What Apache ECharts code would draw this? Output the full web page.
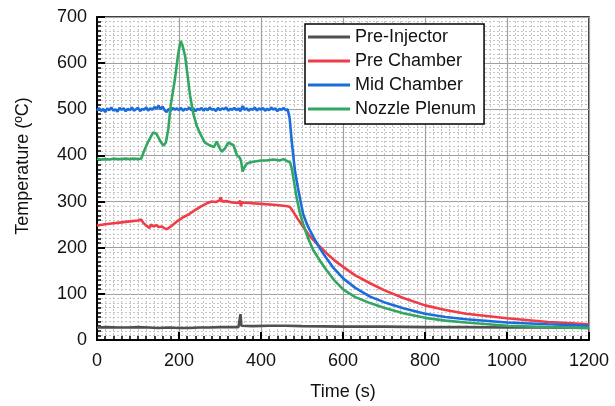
<!DOCTYPE html>
<html>
<head>
<meta charset="utf-8">
<script src="https://cdn.jsdelivr.net/npm/echarts@6/dist/echarts.min.js"></script>
<style>
  html, body { margin: 0; padding: 0; background: #fff; }
  #chart { width: 615px; height: 406px; }
</style>
</head>
<body>
<div id="chart"></div>
<script>
// 图例名称
var seriesNames = ['Pre-Injector', 'Pre Chamber', 'Mid Chamber', 'Nozzle Plenum']
var seriesColors = ['#505050', '#f03c46', '#1b6ddc', '#33a661']
var xTicks = [0, 200, 400, 600, 800, 1000, 1200]
var yTicks = [0, 100, 200, 300, 400, 500, 600, 700]

// Pre-Injector
var preInjTime = [0, 25, 50, 75, 100, 125, 150, 175, 200, 225, 250, 275, 300, 325, 345, 348, 350, 352, 356, 380, 420, 460, 500, 600, 700, 800, 900, 1000, 1100, 1200]
var preInjTemp = [27, 28, 27, 27, 28, 27, 26, 27, 26, 26, 27, 27, 28, 28, 28, 29, 56, 31, 30, 30, 31, 31, 30, 29, 29, 28, 28, 27, 27, 26]

// Pre Chamber
var preChTime = [0, 20, 40, 60, 80, 100, 108, 112, 116, 120, 124, 128, 132, 138, 145, 150, 158, 165, 170, 180, 195, 210, 225, 240, 255, 270, 280, 290, 298, 302, 305, 315, 330, 345, 349, 351, 353, 370, 400, 430, 455, 465, 471, 480, 490, 503, 520, 535, 544, 560, 580, 601, 630, 666, 700, 747, 800, 850, 900, 1000, 1100, 1200]
var preChTemp = [248, 251, 253, 255, 257, 259, 261, 255, 258, 248, 252, 243, 250, 246, 249, 245, 246, 242, 240, 246, 257, 266, 273, 282, 290, 297, 300, 299, 302, 309, 300, 301, 298, 297, 302, 290, 298, 297, 295, 293, 291, 290, 288, 276, 262, 245, 224, 210, 202, 188, 172, 158, 140, 123, 108, 91, 75, 65, 57, 47, 39, 34]

// Mid Chamber: 0-465 s 每5秒一个点
var midPlateau = [497, 503, 496, 501, 494, 502, 498, 504, 497, 500, 495, 503, 499, 502, 496, 501, 498, 504, 497, 500,
  503, 496, 501, 499, 504, 497, 502, 499, 505, 501, 508, 500, 506, 498, 494, 501, 497, 503, 499, 502,
  498, 503, 497, 501, 499, 504, 498, 502, 496, 501, 499, 503, 497, 502, 498, 504, 499, 501, 496, 503,
  498, 502, 500, 504, 497, 501, 499, 503, 498, 502, 496, 507, 499, 502, 497, 501, 499, 504, 497, 502,
  499, 503, 497, 501, 498, 504, 499, 502, 496, 501, 499, 503, 498, 500]
var midDecayTime = [470, 475, 483, 490, 503, 515, 528, 540, 552, 575, 601, 630, 666, 700, 747, 800, 850, 900, 1000, 1100, 1200]
var midDecayTemp = [480, 430, 365, 330, 272, 245, 223, 204, 187, 158, 133, 113, 94, 82, 69, 57, 50, 45, 38, 34, 31]

// Nozzle Plenum
var nozTime = [0, 10, 20, 30, 40, 50, 60, 70, 80, 90, 100, 108, 115, 125, 137, 145, 155, 162, 168, 174, 180, 190, 198, 204, 208, 215, 220, 227, 235, 243, 250, 263, 275, 285, 292, 298, 304, 312, 320, 333, 341, 349, 352, 355, 358, 365, 373, 385, 400, 414, 430, 438, 445, 455, 463, 467, 471, 475, 481, 487, 495, 503, 515, 528, 545, 560, 580, 601, 630, 666, 700, 747, 800, 850, 900, 1000, 1100, 1200]
var nozTemp = [393, 391, 392, 391, 393, 392, 392, 393, 392, 393, 392, 393, 410, 430, 450, 447, 430, 421, 428, 458, 510, 565, 620, 648, 640, 615, 580, 530, 490, 465, 450, 428, 422, 418, 430, 418, 408, 415, 428, 422, 401, 394, 385, 365, 372, 382, 385, 387, 389, 389, 391, 390, 389, 392, 388, 389, 385, 372, 340, 308, 275, 251, 220, 194, 170, 151, 128, 109, 93, 80, 70, 58, 48, 42, 38, 31, 28, 26]

function zip(ts, vs) {
  return ts.map(function (t, i) { return [t, vs[i]] })
}

var midData = midPlateau.map(function (v, i) { return [i * 5, v] }).concat(zip(midDecayTime, midDecayTemp))
var seriesData = [zip(preInjTime, preInjTemp), zip(preChTime, preChTemp), midData, zip(nozTime, nozTemp)]

var font = 'Liberation Sans, Arial, sans-serif'
var chart = echarts.init(document.getElementById('chart'))
chart.setOption({
  animation: false,
  backgroundColor: '#fff',
  color: seriesColors,
  textStyle: { fontFamily: font },
  grid: {
    left: 97, right: 26, top: 17, bottom: 62,
    show: true, borderColor: '#000', borderWidth: 1.5
  },
  legend: {
    orient: 'vertical',
    left: 305, top: 24,
    padding: [4, 8, 6, 3],
    backgroundColor: '#fff',
    borderColor: '#000', borderWidth: 1.5, borderRadius: 0,
    icon: 'rect', itemWidth: 42, itemHeight: 3, itemGap: 6,
    textStyle: { fontSize: 18, color: '#111', fontFamily: font, padding: [0, 0, 0, 0] },
    data: seriesNames
  },
  xAxis: {
    type: 'value',
    min: 0, max: 1200, interval: 200,
    name: 'Time (s)', nameLocation: 'middle', nameGap: 43,
    nameTextStyle: { fontSize: 18, color: '#111', fontFamily: font },
    axisLine: { show: true, lineStyle: { color: '#000', width: 2 } },
    axisTick: { show: true, inside: true, length: 8, lineStyle: { color: '#000', width: 2 } },
    minorTick: { show: true, splitNumber: 10, length: 4, lineStyle: { color: '#000', width: 1.5 } },
    axisLabel: { fontSize: 18, color: '#111', margin: 12, fontFamily: font,
      formatter: function (v) { return xTicks.indexOf(v) >= 0 ? v : '' } },
    splitLine: { show: true, lineStyle: { color: '#a0a0a0', width: 1.2 } },
    minorSplitLine: { show: true, lineStyle: { color: '#c6c6c6', width: 1, type: [2, 2] } }
  },
  yAxis: {
    type: 'value',
    min: 0, max: 700, interval: 100,
    axisLine: { show: true, lineStyle: { color: '#000', width: 2 } },
    axisTick: { show: true, inside: true, length: 8, lineStyle: { color: '#000', width: 2 } },
    minorTick: { show: true, splitNumber: 10, length: 4, lineStyle: { color: '#000', width: 1.5 } },
    axisLabel: { fontSize: 18, color: '#111', margin: 10, fontFamily: font,
      formatter: function (v) { return yTicks.indexOf(v) >= 0 ? v : '' } },
    splitLine: { show: true, lineStyle: { color: '#a0a0a0', width: 1.2 } },
    minorSplitLine: { show: true, lineStyle: { color: '#c6c6c6', width: 1, type: [2, 2] } }
  },
  graphic: [{
    // y轴标题
    type: 'text',
    x: 23, y: 166,
    rotation: Math.PI / 2,
    style: {
      text: 'Temperature (\u00BAC)',
      font: '18px ' + font,
      fill: '#111',
      align: 'center',
      verticalAlign: 'middle'
    }
  }],
  series: seriesNames.map(function (name, i) {
    return {
      name: name,
      type: 'line',
      data: seriesData[i],
      symbol: 'none',
      lineStyle: { width: 2.6, color: seriesColors[i] },
      itemStyle: { color: seriesColors[i] }
    }
  })
})
</script>
</body>
</html>
